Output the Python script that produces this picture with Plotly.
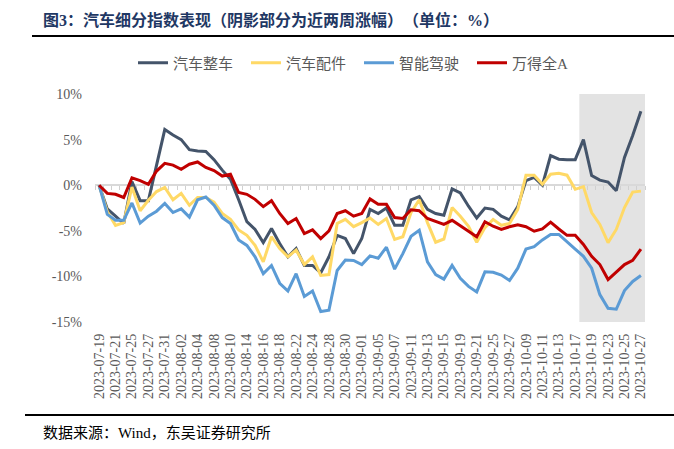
import plotly.graph_objects as go

# ---------------- data ----------------
dates = [
    "2023-07-19", "2023-07-20", "2023-07-21", "2023-07-24", "2023-07-25", "2023-07-26", "2023-07-27", "2023-07-28", "2023-07-31",
    "2023-08-01", "2023-08-02", "2023-08-03", "2023-08-04", "2023-08-07", "2023-08-08", "2023-08-09", "2023-08-10", "2023-08-11",
    "2023-08-14", "2023-08-15", "2023-08-16", "2023-08-17", "2023-08-18", "2023-08-21", "2023-08-22", "2023-08-23", "2023-08-24",
    "2023-08-25", "2023-08-28", "2023-08-29", "2023-08-30", "2023-08-31",
    "2023-09-01", "2023-09-04", "2023-09-05", "2023-09-06", "2023-09-07", "2023-09-08", "2023-09-11", "2023-09-12", "2023-09-13",
    "2023-09-14", "2023-09-15", "2023-09-18", "2023-09-19", "2023-09-20", "2023-09-21", "2023-09-22", "2023-09-25", "2023-09-26",
    "2023-09-27", "2023-09-28",
    "2023-10-09", "2023-10-10", "2023-10-11", "2023-10-12", "2023-10-13", "2023-10-16", "2023-10-17", "2023-10-18", "2023-10-19",
    "2023-10-20", "2023-10-23", "2023-10-24", "2023-10-25", "2023-10-26", "2023-10-27",
]

series_names = ["汽车整车", "汽车配件", "智能驾驶", "万得全A"]

auto_vehicle = [
    0, -2.6, -3.4, -4.2, 0.4, -1.7, -1.7, 2.2, 6.1, 5.5, 5.0, 3.9, 3.75, 3.7, 2.8, 1.65, 0.65,
    -1.6, -4.0, -4.85, -6.3, -4.75, -6.4, -7.85, -6.95, -8.8, -8.8, -9.6, -7.85, -5.5, -5.85, -7.5, -5.85,
    -2.65, -3.1, -2.5, -4.4, -4.4, -1.6, -1.25, -2.65, -3.1, -3.3, -0.4, -0.85, -2.3, -3.6, -2.5, -2.65,
    -3.4, -3.8, -2.35, 0.5, 0.85, 0.0, 3.25, 2.85, 2.8, 2.8, 5.0, 1.05, 0.55, 0.35, -0.6, 3.05, 5.45, 8.1,
]
auto_parts = [
    0, -2.9, -4.4, -4.1, -0.2, -2.8, -1.65, -0.7, -0.25, -1.6, -0.9, -2.2, -1.35, -1.35, -1.85, -3.1, -3.75,
    -4.9, -5.5, -6.6, -8.4, -5.65, -6.95, -7.85, -7.1, -8.7, -7.85, -9.9, -9.8, -4.2, -3.75, -4.55, -4.1,
    -3.6, -4.3, -3.65, -5.95, -5.65, -3.0, -1.6, -4.1, -6.25, -5.9, -2.45, -3.4, -4.5, -6.25, -4.65, -3.75,
    -4.4, -4.2, -2.65, 1.1, 1.1, 0.1, 1.2, 1.3, 1.1, -0.45, -0.15, -3.0, -4.3, -6.3, -4.85, -2.45, -0.75, -0.65,
]
smart_driving = [
    0, -3.2, -3.85, -3.85, -1.95, -4.15, -3.4, -2.85, -2.0, -3.0, -2.6, -3.5, -1.6, -1.3, -2.2, -3.55, -4.2,
    -6.0, -6.6, -7.85, -9.7, -8.8, -10.75, -11.6, -9.7, -12.2, -11.6, -13.85, -13.7, -9.35, -8.2, -8.25, -8.7,
    -7.75, -8.0, -6.8, -9.2, -7.5, -5.6, -4.95, -8.4, -9.8, -10.3, -8.8, -10.2, -11.1, -11.7, -9.5, -9.55,
    -9.85, -10.45, -9.1, -7.0, -6.75, -6.0, -5.4, -5.4, -6.25, -7.0, -7.8, -9.1, -12.0, -13.5, -13.6, -11.55, -10.55, -9.9,
]
wind_all_a = [
    0, -0.9, -1.0, -1.35, 0.8, 0.5, 0.1, 1.55, 2.4, 2.2, 1.75, 2.3, 2.55, 1.95, 1.6, 1.0, 1.2,
    -0.8, -1.0, -1.55, -2.35, -1.7, -3.1, -4.2, -3.65, -5.3, -4.9, -5.85, -5.0, -3.1, -2.8, -3.4, -3.1,
    -1.5, -2.1, -2.1, -3.55, -3.65, -2.7, -2.8, -3.65, -4.0, -4.3, -3.85, -4.5, -5.05, -5.65, -4.0, -4.5,
    -4.85, -4.55, -4.35, -4.55, -5.05, -4.8, -4.05, -4.8, -5.5, -5.5, -6.5, -7.8, -8.7, -10.35, -9.55, -8.7, -8.25, -7.0,
]

y_ticks = [-15, -10, -5, 0, 5, 10]
y_tick_labels = [f"{v}%" for v in y_ticks]
tick_labels = dates[::2]
shade_start = "2023-10-18"

title_text = "<b>图3：汽车细分指数表现（阴影部分为近两周涨幅）　（单位：%）</b>"
source_text = "数据来源：Wind，东吴证券研究所"

# ---------------- layout helpers ----------------
W, H = 674, 449
L, R, T, B = 95, 29, 94, 127
PW, PH = W - L - R, H - T - B


def px(x):
    return (x - L) / PW


def py(y):
    return 1 + (T - y) / PH


colors = ["#44546a", "#ffd966", "#5b9bd5", "#c00000"]
values = [auto_vehicle, auto_parts, smart_driving, wind_all_a]
serif_cjk = "Liberation Serif, Noto Sans CJK SC, serif"

fig = go.Figure()

# invisible trace to carry the zero-line axis
fig.add_trace(go.Scatter(x=dates, y=[0] * len(dates), xaxis="x2", mode="lines",
                         line=dict(width=0), opacity=0, showlegend=False, hoverinfo="skip"))

for name, vals, c in zip(series_names, values, colors):
    fig.add_trace(go.Scatter(x=dates, y=vals, name=name, mode="lines",
                             line=dict(color=c, width=3)))

n = len(dates)
fig.add_shape(type="rect", xref="x", yref="y",
              x0=dates.index(shade_start) - 0.5, x1=n - 0.5, y0=min(y_ticks), y1=max(y_ticks),
              fillcolor="#e3e3e3", line=dict(width=0), layer="below")

# decorative rules
fig.add_shape(type="line", xref="paper", yref="paper", x0=px(32), x1=px(674), y0=py(36), y1=py(36),
              line=dict(color="black", width=2))
fig.add_shape(type="line", xref="paper", yref="paper", x0=px(25), x1=px(674), y0=py(415), y1=py(415),
              line=dict(color="black", width=2))

fig.add_annotation(text=title_text, xref="paper", yref="paper", x=px(41), y=py(20),
                   xanchor="left", yanchor="middle", showarrow=False,
                   font=dict(family=serif_cjk, size=16, color="#1f3864"))
fig.add_annotation(text=source_text, xref="paper", yref="paper", x=px(41), y=py(433),
                   xanchor="left", yanchor="middle", showarrow=False,
                   font=dict(family=serif_cjk, size=15, color="black"))

fig.update_layout(
    width=W, height=H,
    margin=dict(l=L, r=R, t=T, b=B),
    paper_bgcolor="white", plot_bgcolor="white",
    showlegend=True,
    legend=dict(orientation="h", x=px(133), y=py(63), xanchor="left", yanchor="middle",
                font=dict(family=serif_cjk, size=15, color="#595959"),
                entrywidth=68, entrywidthmode="pixels", bgcolor="rgba(0,0,0,0)"),
    xaxis=dict(type="category", categoryorder="array", categoryarray=dates,
               range=[-0.5, n - 0.5], tickmode="array", tickvals=tick_labels, ticktext=tick_labels,
               tickangle=-90, ticks="", showline=False, showgrid=False, zeroline=False,
               ticklabelstandoff=8,
               tickfont=dict(family="Liberation Serif, serif", size=14, color="#595959")),
    xaxis2=dict(type="category", categoryorder="array", categoryarray=dates, overlaying="x",
                anchor="free", position=(0 - min(y_ticks)) / (max(y_ticks) - min(y_ticks)),
                range=[-0.5, n - 0.5], tickmode="linear", tick0=0, dtick=1, tickson="boundaries",
                ticks="outside", ticklen=4, tickcolor="#d0d0d0", tickwidth=1,
                showline=True, linecolor="#d9d9d9", linewidth=1.5, showticklabels=False,
                showgrid=False, zeroline=False, layer="below traces"),
    yaxis=dict(range=[min(y_ticks), max(y_ticks)], tickmode="array", tickvals=y_ticks,
               ticktext=y_tick_labels,
               showgrid=False, zeroline=False, showline=False, ticks="", ticklabelstandoff=12,
               tickfont=dict(family="Liberation Serif, serif", size=14, color="#595959")),
)

fig.write_html("out.html", config={"displayModeBar": False},
               post_script="document.body.style.margin='0px';document.body.style.overflow='hidden';")
